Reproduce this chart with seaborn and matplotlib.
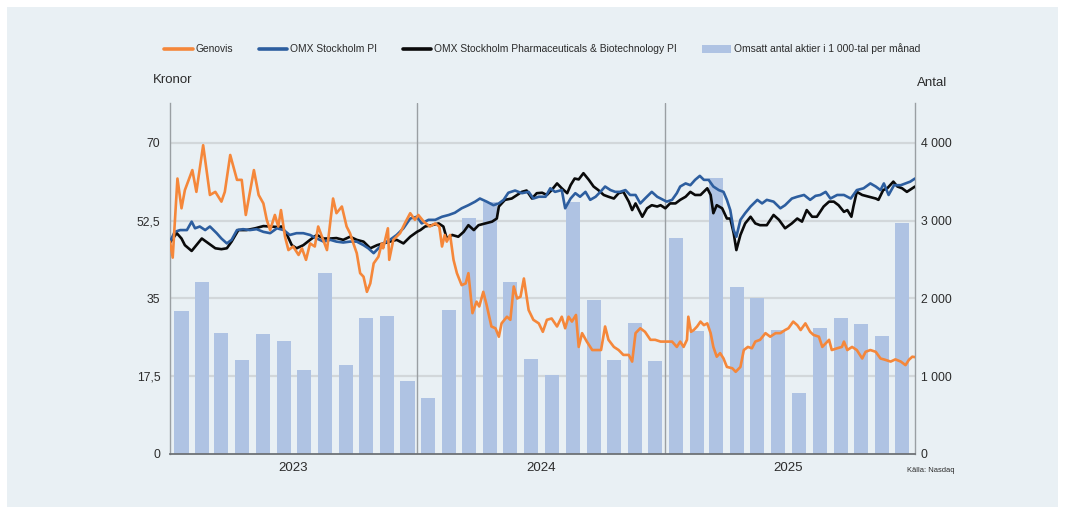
import numpy as np
import pandas as pd
import matplotlib
matplotlib.use("Agg")
import matplotlib.pyplot as plt
import matplotlib.dates as mdates
from matplotlib.lines import Line2D
from matplotlib.patches import Patch, Rectangle
import seaborn as sns

# ---------------- data ----------------
START = "2023-01-01"

genovis_days = [0, 4, 11, 17, 22, 33, 39, 45, 49, 59, 67, 76, 81, 89, 99, 106, 112, 124, 131, 138,
                143, 148, 155, 160, 164, 170, 175, 182, 190, 195, 201, 207, 214, 219, 232, 241, 246, 254, 261, 266,
                271, 276, 281, 286, 291, 296, 301, 308, 313, 315, 322, 324, 330, 340, 347, 355, 362, 367,
                375, 384, 392, 398, 402, 406, 409, 414, 419, 424, 431, 437, 441, 447, 453, 457, 463, 468,
                475, 481, 486, 490, 498, 503, 508, 513, 518, 523, 530, 537, 545, 551, 557, 564, 572, 579,
                584, 589, 594, 600, 604, 609, 616, 624, 631, 637, 643, 648, 656, 663, 670, 678, 683, 688,
                695, 702, 710, 717, 725,
                734, 742, 749, 754, 759, 764, 766, 770, 774, 779, 784, 789, 794, 799, 803, 808, 813, 818,
                823, 831, 836, 843, 848, 854, 860, 865, 872, 880, 887, 895, 902, 909, 914, 921, 927, 932,
                939, 946, 951, 959, 964, 969, 974, 978, 986, 993, 996, 1001, 1008, 1015, 1023, 1028, 1035,
                1043, 1050, 1057, 1065, 1072, 1080, 1087, 1092, 1097, 1101]
genovis_values = [47.8, 44.2, 62.0, 55.3, 59.4, 63.9, 59.0, 65.4, 69.5, 58.3, 59.0, 56.8, 59.0, 67.3, 61.7, 61.7, 53.8, 63.9, 58.3, 56.4,
                  52.7, 50.4, 53.8, 51.2, 54.9, 48.9, 45.9, 46.7, 44.8, 46.3, 43.7, 47.4, 46.7, 51.2, 45.9, 57.5, 54.2, 55.7, 51.2, 49.7,
                  47.4, 45.2, 40.7, 39.9, 36.5, 38.4, 42.9, 44.4, 47.4, 46.3, 50.8, 43.7, 48.2, 49.7, 51.9, 54.2, 52.7, 53.8,
                  52.3, 51.2, 51.9, 51.2, 46.7, 49.3, 47.8, 49.3, 43.7, 40.7, 38.0, 38.4, 40.7, 31.7, 34.3, 33.2, 36.5, 33.5,
                  28.7, 28.3, 26.4, 29.4, 30.9, 30.2, 37.7, 35.0, 35.4, 39.5, 32.4, 30.2, 29.4, 27.5, 30.2, 30.5, 28.7, 30.9,
                  28.3, 30.9, 29.8, 31.3, 24.1, 27.2, 25.3, 23.4, 23.4, 23.4, 28.7, 25.7, 24.1, 23.4, 22.3, 22.3, 20.8, 27.2,
                  28.3, 27.5, 25.7, 25.7, 25.3,
                  25.3, 25.3, 24.1, 25.3, 24.1, 25.7, 30.9, 27.5, 27.9, 28.7, 29.8, 29.0, 29.4, 27.2, 24.1, 21.9, 22.7, 21.5,
                  19.6, 19.3, 18.5, 19.6, 23.4, 24.1, 23.8, 25.3, 25.7, 27.2, 26.4, 27.2, 27.2, 27.9, 28.3, 29.8, 29.0, 27.9,
                  29.4, 27.5, 26.8, 26.4, 24.1, 24.9, 25.7, 23.4, 23.8, 24.1, 25.3, 23.4, 24.1, 23.4, 21.5, 23.0, 23.4,
                  23.0, 21.5, 21.2, 20.8, 21.3, 20.8, 20.0, 21.2, 21.9, 21.8]

omxpi_days = [0, 7, 15, 25, 32, 37, 44, 52, 59, 69, 76, 84, 91, 99, 108, 118, 128, 138, 148, 158,
              168, 177, 187, 197, 207, 217, 227, 237, 246, 256, 266, 276, 286, 293, 301, 308, 315, 325, 335, 345,
              355, 365,
              372, 382, 392, 402, 412, 421, 431, 441, 451, 458, 468, 478, 486, 493, 500, 510, 520, 530, 537,
              545, 555, 562, 569, 579, 584, 592, 599, 606, 614, 621, 629, 636, 643, 651, 658, 665, 673, 680,
              688, 695, 702, 712, 720,
              725, 734, 742, 749, 754, 762, 769, 776, 783, 789, 796, 803, 811, 818, 823, 828, 833, 837, 843,
              850, 858, 868, 875, 882, 892, 902, 909, 919, 927, 937, 946, 954, 961, 969, 976, 986, 996, 1006,
              1015, 1025, 1035, 1043, 1050, 1055, 1062, 1070, 1080, 1087, 1094, 1101]
omxpi_values = [47.8, 50.0, 50.4, 50.4, 52.3, 50.8, 51.2, 50.4, 51.2, 49.7, 48.5, 47.4, 48.2, 50.4, 50.6, 50.4, 50.6, 50.0, 49.7, 50.8,
                50.4, 49.3, 49.7, 49.7, 49.3, 48.5, 47.8, 48.2, 47.8, 47.6, 47.8, 47.8, 47.0, 46.3, 45.2, 46.3, 47.4, 48.2, 49.3, 50.8,
                53.0, 53.4,
                51.9, 52.7, 52.7, 53.4, 53.8, 54.3, 55.3, 56.0, 56.8, 57.5, 56.8, 56.0, 56.4, 57.2, 58.8, 59.3, 58.7, 59.0, 57.5,
                57.9, 57.9, 59.8, 59.0, 59.4, 55.3, 57.5, 58.7, 57.9, 59.0, 57.2, 57.9, 59.0, 60.2, 59.4, 59.0, 59.0, 59.4, 58.3,
                58.3, 56.4, 57.5, 59.0, 57.9,
                57.5, 56.8, 57.2, 58.7, 60.2, 60.9, 60.5, 61.7, 62.6, 61.7, 61.7, 60.2, 59.4, 59.0, 57.2, 54.9, 50.4, 48.9, 52.7,
                54.2, 55.7, 57.2, 56.4, 57.2, 56.8, 55.3, 56.0, 57.5, 57.9, 58.3, 57.2, 58.1, 58.3, 59.0, 57.5, 58.3, 58.3, 57.5,
                59.4, 59.8, 60.9, 60.2, 59.4, 60.9, 58.3, 60.5, 60.5, 60.9, 61.3, 62.0]

pharma_days = [0, 10, 17, 22, 32, 39, 47, 57, 67, 76, 84, 91, 101, 113, 126, 138, 148, 158, 165, 173,
               180, 187, 197, 207, 217, 227, 237, 246, 256, 266, 276, 286, 296, 306, 315, 325, 335, 345, 355, 365,
               370, 377, 387, 397, 404, 409, 417, 426, 434, 441, 449, 456, 466, 476, 483, 486, 495, 505, 513, 520,
               527, 535, 542, 550, 557, 564, 572, 579, 587, 592, 598, 604, 611, 619, 626, 633, 641, 648, 656, 663,
               670, 678, 683, 688, 693, 698, 705, 712, 720,
               725, 732, 739, 747, 754, 762, 769, 776, 784, 794, 799, 803, 808, 816, 823, 828, 833, 837, 843,
               850, 858, 865, 872, 882, 892, 900, 909, 919, 927, 934, 941, 949, 956, 966, 974, 981, 988, 996,
               1001, 1007, 1010, 1015, 1023, 1033, 1043, 1047, 1054, 1060, 1069, 1075, 1082, 1089, 1097, 1101]
pharma_values = [47.6, 49.7, 48.5, 47.0, 45.7, 47.0, 48.5, 47.4, 46.3, 46.1, 46.3, 47.8, 50.4, 50.4, 50.8, 51.3, 51.2, 51.1, 51.2, 49.3,
                 47.0, 46.3, 47.0, 48.2, 49.3, 48.5, 48.5, 48.6, 48.2, 48.9, 48.2, 47.8, 46.3, 47.0, 47.4, 47.8, 48.2, 47.4, 48.9, 50.0,
                 50.4, 51.2, 51.5, 51.9, 51.2, 48.5, 49.3, 48.9, 50.0, 51.5, 50.4, 51.5, 51.9, 52.3, 53.0, 55.7, 57.2, 57.5, 58.3, 59.0,
                 59.3, 57.5, 58.7, 58.8, 58.3, 59.4, 60.9, 59.8, 58.7, 60.5, 62.0, 61.8, 63.2, 61.7, 60.2, 59.4, 58.3, 57.9, 57.5, 58.7,
                 59.0, 56.8, 54.9, 56.4, 54.9, 53.4, 55.3, 56.0, 55.7,
                 56.0, 55.3, 56.4, 56.4, 57.2, 57.9, 59.0, 58.3, 58.3, 59.8, 58.3, 54.2, 56.0, 55.3, 53.0, 53.0, 49.7, 45.9, 49.3,
                 51.9, 53.4, 51.9, 51.5, 51.5, 53.8, 52.7, 50.8, 51.9, 53.0, 52.3, 54.9, 53.4, 53.4, 55.7, 56.8, 56.8, 56.0, 54.5,
                 54.9, 53.4, 55.7, 59.0, 58.3, 57.9, 57.5, 57.2, 59.4, 59.8, 61.3, 60.2, 59.8, 59.0, 59.8, 60.2]

months = pd.date_range("2023-01-01", "2025-12-01", freq="MS") + pd.Timedelta(days=17)
volume = [1840, 2210, 1560, 1210, 1545, 1455, 1080, 2325, 1140, 1750, 1780, 935,
          715, 1855, 3040, 3235, 2210, 1220, 1015, 3235, 1975, 1210, 1690, 1195,
          2780, 1585, 3545, 2145, 2000, 1600, 790, 1625, 1755, 1675, 1520, 2975]

year_labels = ["2023", "2024", "2025"]
left_ticks = [0, 17.5, 35, 52.5, 70]
left_labels = ["0", "17,5", "35", "52,5", "70"]
right_ticks = [0, 1000, 2000, 3000, 4000]
right_labels = ["0", "1 000", "2 000", "3 000", "4 000"]

legend_labels = ["Genovis", "OMX Stockholm PI",
                 "OMX Stockholm Pharmaceuticals & Biotechnology PI",
                 "Omsatt antal aktier i 1 000-tal per månad"]

# ---------------- style ----------------
C_ORANGE = "#F5873A"
C_BLUE = "#2D5E9F"
C_BLACK = "#0A0A0A"
C_BAR = "#AFC3E3"
C_PANEL = "#E9F0F4"
C_GRID = "#D2D7DA"
C_TEXT = "#2B2B2B"

sns.set_theme(style="white")
plt.rcParams["font.family"] = ["Liberation Sans", "DejaVu Sans"]

start = pd.Timestamp(START)
def to_num(days):
    return mdates.date2num(start + pd.to_timedelta(np.asarray(days), unit="D"))

fig = plt.figure(figsize=(10.65, 5.14), dpi=100)
fig.patch.set_facecolor("white")
fig.add_artist(Rectangle((7 / 1065, 1 - 507 / 514), (1058 - 7) / 1065, (507 - 7) / 514,
                         transform=fig.transFigure, facecolor=C_PANEL, edgecolor="none", zorder=0))

pos = [170 / 1065, 1 - 454 / 514, 745 / 1065, 351 / 514]
ax2 = fig.add_axes(pos)               # bars (right axis)
ax = fig.add_axes(pos, sharex=ax2)    # lines (left axis)
ax.set_zorder(ax2.get_zorder() + 1)
for a in (ax, ax2):
    a.patch.set_visible(False)

YMAX = 79.0

# bars
bar_df = pd.DataFrame({"x": mdates.date2num(months), "y": volume})
sns.barplot(data=bar_df, x="x", y="y", ax=ax2, native_scale=True, orient="x",
            color=C_BAR, saturation=1, width=0.74, errorbar=None, zorder=2)
for p in ax2.patches:
    p.set_edgecolor("none")

# lines
for days, vals, col in [(pharma_days, pharma_values, C_BLACK),
                        (omxpi_days, omxpi_values, C_BLUE),
                        (genovis_days, genovis_values, C_ORANGE)]:
    df = pd.DataFrame({"x": to_num(days), "y": vals})
    sns.lineplot(data=df, x="x", y="y", ax=ax, color=col, linewidth=1.9,
                 estimator=None, sort=True, zorder=3)

ax.set_ylim(0, YMAX)
ax2.set_ylim(0, YMAX * 4000 / 70)
x0 = mdates.date2num(pd.Timestamp("2023-01-01"))
x1 = mdates.date2num(pd.Timestamp("2026-01-06"))
ax.set_xlim(x0, x1)

# grid on the bar axis (below bars)
for v in right_ticks[1:]:
    ax2.axhline(v, color=C_GRID, linewidth=1.6, zorder=0.5)

# year separators
for y in ["2024-01-01", "2025-01-01"]:
    ax.axvline(mdates.date2num(pd.Timestamp(y)), color="#9A9FA3", linewidth=1.0, zorder=1)

# ticks
ax.yaxis.tick_left()
ax.set_yticks(left_ticks)
ax.set_yticklabels(left_labels)
ax2.yaxis.tick_right()
ax2.set_yticks(right_ticks)
ax2.set_yticklabels(right_labels)
ax.tick_params(axis="y", length=0, pad=7, labelsize=8.8, labelcolor=C_TEXT)
ax2.tick_params(axis="y", length=0, pad=4, labelsize=8.8, labelcolor=C_TEXT)

mid = [mdates.date2num(pd.Timestamp(f"{y}-07-02")) for y in year_labels]
ax.set_xticks(mid)
ax.set_xticklabels(year_labels)
ax.tick_params(axis="x", length=0, pad=6, labelsize=9.5, labelcolor=C_TEXT)
ax2.tick_params(axis="x", length=0, labelbottom=False)

for a in (ax, ax2):
    a.set_xlabel("")
    a.set_ylabel("")
    for s in a.spines.values():
        s.set_visible(False)
ax.spines["left"].set_visible(True)
ax.spines["left"].set_color("#9A9FA3")
ax.spines["left"].set_linewidth(1.0)
ax.spines["right"].set_visible(True)
ax.spines["right"].set_color("#9A9FA3")
ax.spines["right"].set_linewidth(1.0)
ax.spines["bottom"].set_visible(True)
ax.spines["bottom"].set_color("#6E7276")
ax.spines["bottom"].set_linewidth(1.3)

# axis titles
fig.text(153 / 1065, 1 - 80 / 514, "Kronor", ha="left", va="center", fontsize=9.5, color=C_TEXT)
fig.text(917 / 1065, 1 - 83 / 514, "Antal", ha="left", va="center", fontsize=9.5, color=C_TEXT)
fig.text(907 / 1065, 1 - 470 / 514, "Källa: Nasdaq", ha="left", va="center", fontsize=5.4, color=C_TEXT)

# legend
handles = [Line2D([], [], color=C_ORANGE, linewidth=2.6),
           Line2D([], [], color=C_BLUE, linewidth=2.6),
           Line2D([], [], color=C_BLACK, linewidth=2.6),
           Patch(facecolor=C_BAR, edgecolor="none")]
fig.legend(handles, legend_labels, loc="center", bbox_to_anchor=(542 / 1065, 1 - 49 / 514),
           ncol=4, frameon=False, fontsize=7.4, handlelength=2.8, handleheight=0.8,
           handletextpad=0.25, columnspacing=2.5, labelcolor=C_TEXT)

fig.savefig("out.png", dpi=100, facecolor="white")
